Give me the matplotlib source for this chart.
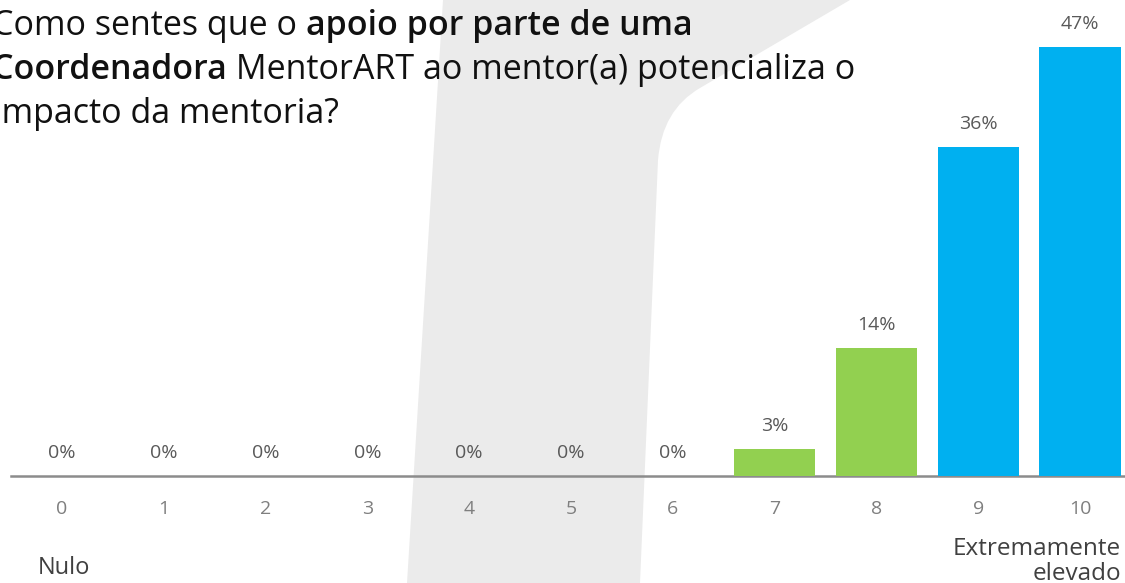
import matplotlib
matplotlib.use("Agg")
import matplotlib.pyplot as plt
from matplotlib.patches import PathPatch
from matplotlib.path import Path

categories = ["0", "1", "2", "3", "4", "5", "6", "7", "8", "9", "10"]
values = [0, 0, 0, 0, 0, 0, 0, 3, 14, 36, 47]
bar_colors = ["#92d050"] * 9 + ["#00b0f0"] * 2

title_lines = [
    [("Como sentes que o ", "normal"), ("apoio por parte de uma", "semibold")],
    [("Coordenadora", "semibold"), (" MentorART ao mentor(a) potencializa o", "normal")],
    [("Impacto da mentoria?", "normal")],
]

W, H = 1125, 583
fig = plt.figure(figsize=(W / 100, H / 100), dpi=100)
fig.patch.set_facecolor("white")

def P(x, y):
    return (x / W, 1 - y / H)

verts = [P(443, 0), P(850, 0), P(700, 88), P(662, 110), P(658, 160),
         P(640, 583), P(407, 583), P(443, 0)]
codes = [Path.MOVETO, Path.LINETO, Path.LINETO, Path.CURVE3, Path.CURVE3,
         Path.LINETO, Path.LINETO, Path.CLOSEPOLY]
bg = PathPatch(Path(verts, codes), transform=fig.transFigure,
               facecolor="#ebebeb", edgecolor="none", zorder=-5)
fig.patches.append(bg)

ax = fig.add_axes([11 / W, (H - 476) / H, 1 - 11 / W, 476 / H])
ax.set_facecolor("none")
ax.set_zorder(2)
x = list(range(len(categories)))
ax.bar(x, values, width=0.8, color=bar_colors, zorder=3)
ax.set_xlim(-0.5, 10.44)
ax.set_ylim(0, 52.1)
for s in ["top", "right", "left"]:
    ax.spines[s].set_visible(False)
ax.spines["bottom"].set_color("#8c8c8c")
ax.spines["bottom"].set_linewidth(1.8)
ax.set_yticks([])
ax.set_xticks(x)
ax.set_xticklabels(categories, fontsize=14, color="#7f7f7f", family="Open Sans")
ax.tick_params(axis="x", length=0, pad=17)

for xi, v in zip(x, values):
    ax.annotate(f"{v}%", (xi, v), xytext=(0, 10), textcoords="offset points",
                ha="center", va="bottom", fontsize=14, color="#595959",
                family="Open Sans")

fig.text(38 / W, 1 - 568 / H, "Nulo", fontsize=17, color="#404040",
         family="Open Sans", va="center", ha="left")
fig.text(1121 / W, 1 - 549 / H, "Extremamente", fontsize=17.5,
         color="#404040", family="Open Sans", va="center", ha="right")
fig.text(1121 / W, 1 - 574 / H, "elevado", fontsize=17.5,
         color="#404040", family="Open Sans", va="center", ha="right")

fig.canvas.draw()
renderer = fig.canvas.get_renderer()
x0 = -8
baselines = [35, 79, 123]
for line, yb in zip(title_lines, baselines):
    cx = x0
    for txt, wt in line:
        t = fig.text(cx / W, 1 - yb / H, txt, fontsize=24.5, fontweight=wt,
                     family="Open Sans", color="#111111",
                     va="baseline", ha="left")
        bb = t.get_window_extent(renderer)
        cx += bb.width

fig.savefig("out.png", dpi=100)
